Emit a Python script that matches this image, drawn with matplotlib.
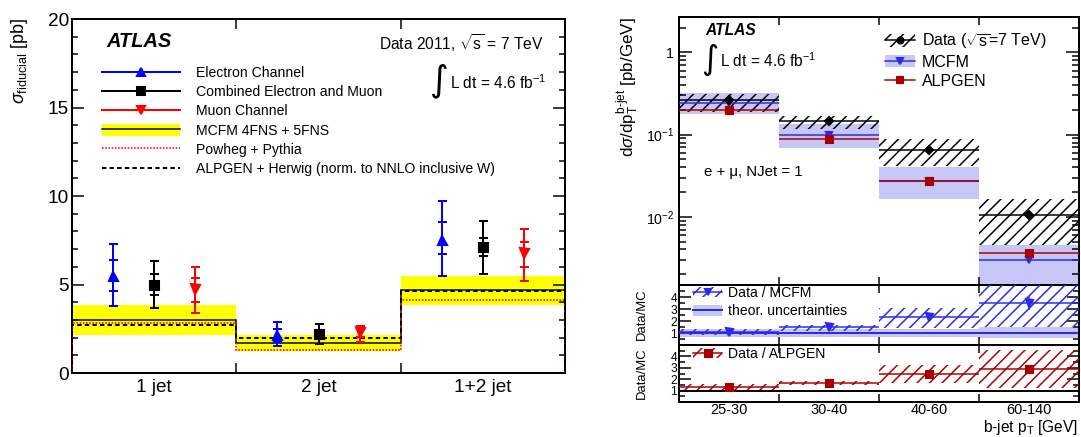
import matplotlib
matplotlib.use('Agg')
import matplotlib.pyplot as plt
import numpy as np
from matplotlib.lines import Line2D
from matplotlib.patches import Patch
from matplotlib.ticker import MultipleLocator, NullFormatter, LogLocator

W, H, DPI = 1081, 437, 150
def pt(px): return px * 72.0 / DPI
def fx(px): return px / W
def fy(py): return 1 - py / H

plt.rcParams['font.family'] = ['Liberation Sans', 'DejaVu Sans']
plt.rcParams['mathtext.fontset'] = 'custom'
plt.rcParams['mathtext.rm'] = 'Liberation Sans'
plt.rcParams['mathtext.it'] = 'Liberation Sans:italic'
plt.rcParams['mathtext.bf'] = 'Liberation Sans:bold'
plt.rcParams['mathtext.sf'] = 'Liberation Sans'
plt.rcParams['hatch.linewidth'] = 0.72
plt.rcParams['axes.linewidth'] = pt(2)

HATCH = '////'

# ---------------- left panel data ----------------
categories = ['1 jet', '2 jet', '1+2 jet']
electron = [5.47, 2.13, 7.54]
electron_tot_hi = [7.26, 2.88, 9.71]
electron_tot_lo = [3.77, 1.53, 5.50]
electron_stat_hi = [6.41, 2.50, 8.52]
electron_stat_lo = [4.62, 1.75, 6.71]
combined = [5.00, 2.22, 7.11]
combined_tot_hi = [6.35, 2.75, 8.60]
combined_tot_lo = [3.68, 1.66, 5.60]
combined_stat_hi = [5.58, 2.45, 7.62]
combined_stat_lo = [4.39, 1.95, 6.60]
muon = [4.77, 2.32, 6.80]
muon_tot_hi = [6.00, 2.66, 8.16]
muon_tot_lo = [3.39, 1.75, 5.22]
muon_stat_hi = [5.39, 2.50, 7.41]
muon_stat_lo = [4.00, 2.05, 6.00]
mcfm_nom = [3.02, 1.72, 4.67]
mcfm_hi = [3.83, 2.13, 5.50]
mcfm_lo = [2.13, 1.24, 3.86]
powheg = [2.83, 1.32, 4.15]
alpgen_herwig = [2.73, 1.98, 4.64]
legend_left = ['Electron Channel', 'Combined Electron and Muon', 'Muon Channel',
               'MCFM 4FNS + 5FNS', 'Powheg + Pythia',
               'ALPGEN + Herwig (norm. to NNLO inclusive W)']

# ---------------- right panel data ----------------
pt_bins = ['25-30', '30-40', '40-60', '60-140']
data_xs = [0.26, 0.146, 0.065, 0.0106]
data_hi = [0.31, 0.17, 0.088, 0.0165]
data_lo = [0.19, 0.118, 0.042, 0.0045]
mcfm_xs = [0.24, 0.100, 0.0273, 0.0030]
mcfm_band_hi = [0.32, 0.133, 0.040, 0.0045]
mcfm_band_lo = [0.18, 0.069, 0.0165, 0.0012]
alpgen_xs = [0.20, 0.088, 0.027, 0.0036]

ratio_mcfm = [1.12, 1.48, 2.33, 3.52]
ratio_mcfm_hi = [1.35, 1.70, 3.05, 5.5]
ratio_mcfm_lo = [0.82, 1.15, 1.4, 1.5]
ratio_mcfm_stat = [0.04, 0.05, 0.1, 0.6]
theory_hi = [1.34, 1.34, 1.36, 1.54]
theory_lo = [0.70, 0.70, 0.64, 0.55]
ratio_alpgen = [1.33, 1.69, 2.42, 2.92]
ratio_alpgen_hi = [1.55, 1.85, 3.27, 4.6]
ratio_alpgen_lo = [1.08, 1.50, 1.69, 1.2]
ratio_alpgen_stat = [0.04, 0.05, 0.1, 0.28]

BLUE = '#2b2be6'
BAND = '#c6c6f7'
DRED = '#a80000'

fig = plt.figure(figsize=(W / DPI, H / DPI), dpi=DPI)

# ================= LEFT =================
axL = fig.add_axes([fx(72), fy(373), (565 - 72) / W, (373 - 19) / H])
edges = np.arange(len(categories) + 1)
centers = edges[:-1] + 0.5
axL.bar(centers, np.array(mcfm_hi) - np.array(mcfm_lo), bottom=mcfm_lo, width=1.0,
        color='#ffff00', lw=0, zorder=1)
axL.stairs(mcfm_nom, edges, color='k', lw=pt(1.5), zorder=2)
axL.stairs(powheg, edges, color='red', lw=pt(1.6), ls=(0, (1, 1)), zorder=3)
axL.stairs(alpgen_herwig, edges, color='k', lw=pt(2), ls=(0, (2.2, 1.6)), zorder=3)

series = [
    (electron, electron_tot_lo, electron_tot_hi, electron_stat_lo, electron_stat_hi, 'blue', '^', 0.25),
    (combined, combined_tot_lo, combined_tot_hi, combined_stat_lo, combined_stat_hi, 'black', 's', 0.5),
    (muon, muon_tot_lo, muon_tot_hi, muon_stat_lo, muon_stat_hi, 'red', 'v', 0.75),
]
for vals, tlo, thi, slo, shi, col, mk, off in series:
    x = edges[:-1] + off
    v = np.array(vals)
    axL.errorbar(x, v, yerr=[v - np.array(tlo), np.array(thi) - v], fmt='none', ecolor=col,
                 elinewidth=pt(2), capsize=pt(4.5), capthick=pt(2), zorder=4)
    axL.errorbar(x, v, yerr=[v - np.array(slo), np.array(shi) - v], fmt='none', ecolor=col,
                 elinewidth=pt(2), capsize=pt(4.5), capthick=pt(2), zorder=4)
    axL.plot(x, v, ls='none', marker=mk, color=col, ms=pt(9), zorder=5)

axL.set_xlim(0, 3)
axL.set_ylim(0, 20)
axL.yaxis.set_major_locator(MultipleLocator(5))
axL.yaxis.set_minor_locator(MultipleLocator(1))
axL.tick_params(axis='y', which='both', direction='in', left=True, right=True,
                width=pt(1.5), labelsize=pt(19), pad=pt(3))
axL.tick_params(axis='y', which='major', length=pt(12))
axL.tick_params(axis='y', which='minor', length=pt(6))
axL.set_xticks([1, 2])
axL.set_xticklabels([])
axL.set_xticks(centers, minor=True)
axL.set_xticklabels(categories, minor=True)
axL.tick_params(axis='x', which='major', direction='in', top=True, bottom=True,
                length=pt(10), width=pt(1.5))
axL.tick_params(axis='x', which='minor', length=0, labelsize=pt(19), pad=pt(6))

h_e = Line2D([], [], color='blue', lw=pt(2), marker='^', ms=pt(8))
h_c = Line2D([], [], color='black', lw=pt(2), marker='s', ms=pt(8))
h_m = Line2D([], [], color='red', lw=pt(2), marker='v', ms=pt(8))
h_mc = (Patch(facecolor='#ffff00', lw=0), Line2D([], [], color='k', lw=pt(1.5)))
h_pw = Line2D([], [], color='red', lw=pt(1.6), ls=(0, (1, 1)))
h_al = Line2D([], [], color='k', lw=pt(2), ls=(0, (2.2, 1.6)))
axL.legend([h_e, h_c, h_m, h_mc, h_pw, h_al], legend_left, loc='upper left',
           bbox_to_anchor=(fx(101.5), fy(66)), bbox_transform=fig.transFigure,
           frameon=False, fontsize=pt(14), handlelength=(180 - 101.5) / 14,
           handletextpad=16.5 / 14, labelspacing=0.37, borderpad=0, borderaxespad=0,
           handleheight=0.9)

fig.text(fx(106.5), fy(41.7), 'ATLAS', fontsize=pt(20), fontweight='bold', style='italic',
         ha='left', va='center')
fig.text(fx(544), fy(43.3), r'Data 2011, $\sqrt{\mathrm{s}}$ = 7 TeV', fontsize=pt(15.5),
         ha='right', va='center')
fig.text(fx(439), fy(81), '\u222B', fontsize=pt(36), family='DejaVu Sans', ha='center', va='center')
fig.text(fx(450), fy(83), r'L dt = 4.6 fb$^{-1}$', fontsize=pt(15.5), ha='left', va='center')
fig.text(fx(20), fy(18), r'$\sigma_{\mathrm{fiducial}}$ [pb]', rotation=90, ha='center', va='top',
         fontsize=pt(18))

# ================= RIGHT =================
axT = fig.add_axes([fx(679), fy(285), 400 / W, (285 - 17) / H])
axR1 = fig.add_axes([fx(679), fy(345), 400 / W, (345 - 285) / H])
axR2 = fig.add_axes([fx(679), fy(402), 400 / W, (402 - 345) / H])

pe = np.arange(len(pt_bins) + 1)
pc = pe[:-1] + 0.5
a = np.array

axT.bar(pc, a(mcfm_band_hi) - a(mcfm_band_lo), bottom=mcfm_band_lo, width=1, color=BAND, lw=0, zorder=1)
axT.bar(pc, a(data_hi) - a(data_lo), bottom=data_lo, width=1, fill=False, hatch=HATCH,
        edgecolor='k', lw=0, zorder=2)
axT.hlines(data_xs, pe[:-1], pe[1:], color='k', lw=pt(1.5), zorder=3)
axT.hlines(mcfm_xs, pe[:-1], pe[1:], color=BLUE, lw=pt(1.5), zorder=3)
axT.hlines(alpgen_xs, pe[:-1], pe[1:], color=DRED, lw=pt(1.5), zorder=3)
axT.plot(pc, mcfm_xs, ls='none', marker='v', color=BLUE, ms=pt(6), zorder=4)
axT.plot(pc, alpgen_xs, ls='none', marker='s', color=DRED, ms=pt(7), zorder=5)
axT.plot(pc, data_xs, ls='none', marker='D', color='k', ms=pt(6), zorder=6)
axT.set_yscale('log')
axT.set_xlim(0, 4)
axT.set_ylim(1.48e-3, 2.69)
axT.set_yticks([0.01, 0.1, 1], labels=[r'$10^{-2}$', r'$10^{-1}$', '1'])
axT.yaxis.set_minor_locator(LogLocator(base=10, subs=np.arange(2, 10)))
axT.yaxis.set_minor_formatter(NullFormatter())
axT.tick_params(axis='y', which='both', direction='in', left=True, right=True,
                width=pt(1.5), labelsize=pt(14), pad=pt(5))
axT.tick_params(axis='y', which='major', length=pt(13))
axT.tick_params(axis='y', which='minor', length=pt(7))
axT.set_xticks([1, 2, 3])
axT.set_xticklabels([])
axT.tick_params(axis='x', which='both', direction='in', top=True, bottom=True,
                length=pt(8), width=pt(1.5))

fig.text(fx(705), fy(30.7), 'ATLAS', fontsize=pt(15.5), fontweight='bold', style='italic',
         ha='left', va='center')
fig.text(fx(710), fy(59.5), '\u222B', fontsize=pt(33), family='DejaVu Sans', ha='center', va='center')
fig.text(fx(720), fy(61), r'L dt = 4.6 fb$^{-1}$', fontsize=pt(15.5), ha='left', va='center')
fig.text(fx(704), fy(171.7), 'e + \u03bc, NJet = 1', fontsize=pt(15), ha='left', va='center')
fig.text(fx(628), fy(17), r'd$\sigma$/dp$_{\mathrm{T}}^{\text{b-jet}}$ [pb/GeV]', rotation=90,
         ha='center', va='top', fontsize=pt(17))

hT_data = (Patch(facecolor='none', edgecolor='k', hatch=HATCH, lw=0),
           Line2D([], [], color='k', lw=pt(1.5), marker='o', ms=pt(6)))
hT_mcfm = (Patch(facecolor=BAND, lw=0), Line2D([], [], color=BLUE, lw=pt(1.5), marker='v', ms=pt(6)))
hT_alp = Line2D([], [], color=DRED, lw=pt(1.5), marker='s', ms=pt(6))
axT.legend([hT_data, hT_mcfm, hT_alp], [r'Data ($\sqrt{\mathrm{s}}$=7 TeV)', 'MCFM', 'ALPGEN'],
           loc='upper left', bbox_to_anchor=(fx(885), fy(31)), bbox_transform=fig.transFigure,
           frameon=False, fontsize=pt(16), handlelength=30 / 16, handletextpad=7 / 16,
           labelspacing=0.24, borderpad=0, borderaxespad=0, handleheight=0.8)

# ratio 1
axR1.bar(pc, a(theory_hi) - a(theory_lo), bottom=theory_lo, width=1, color=BAND, lw=0, zorder=1)
axR1.axhline(1, color=BLUE, lw=pt(2), zorder=2)
axR1.bar(pc, a(ratio_mcfm_hi) - a(ratio_mcfm_lo), bottom=ratio_mcfm_lo, width=1, fill=False,
         hatch=HATCH, edgecolor=BLUE, lw=0, zorder=3)
axR1.hlines(ratio_mcfm, pe[:-1], pe[1:], color=BLUE, lw=pt(1.5), zorder=4)
axR1.errorbar(pc, ratio_mcfm, yerr=ratio_mcfm_stat, fmt='v', color=BLUE, ms=pt(7),
              elinewidth=pt(1.5), capsize=0, zorder=5)
hR1_d = (Patch(facecolor='none', edgecolor=BLUE, hatch=HATCH, lw=0),
         Line2D([], [], color=BLUE, lw=pt(1.5), marker='v', ms=pt(6)))
hR1_t = (Patch(facecolor=BAND, lw=0), Line2D([], [], color=BLUE, lw=pt(2)))
axR1.legend([hR1_d, hR1_t], ['Data / MCFM', 'theor. uncertainties'], loc='upper left',
            bbox_to_anchor=(fx(693), fy(286)), bbox_transform=fig.transFigure,
            frameon=False, fontsize=pt(14), handlelength=29 / 14, handletextpad=6 / 14,
            labelspacing=0.29, borderpad=0, borderaxespad=0, handleheight=0.8)

# ratio 2
axR2.axhline(1, color='k', lw=pt(2), zorder=2)
axR2.bar(pc, a(ratio_alpgen_hi) - a(ratio_alpgen_lo), bottom=ratio_alpgen_lo, width=1, fill=False,
         hatch=HATCH, edgecolor=DRED, lw=0, zorder=3)
axR2.hlines(ratio_alpgen, pe[:-1], pe[1:], color=DRED, lw=pt(1.5), zorder=4)
axR2.errorbar(pc, ratio_alpgen, yerr=ratio_alpgen_stat, fmt='s', color=DRED, ms=pt(7),
              elinewidth=pt(1.5), capsize=0, zorder=5)
hR2_d = (Patch(facecolor='none', edgecolor=DRED, hatch=HATCH, lw=0),
         Line2D([], [], color=DRED, lw=pt(1.5), marker='s', ms=pt(7)))
axR2.legend([hR2_d], ['Data / ALPGEN'], loc='upper left',
            bbox_to_anchor=(fx(693), fy(347)), bbox_transform=fig.transFigure,
            frameon=False, fontsize=pt(14), handlelength=29 / 14, handletextpad=6 / 14,
            borderpad=0, borderaxespad=0, handleheight=0.8)

for ax in (axR1, axR2):
    ax.set_xlim(0, 4)
    ax.set_ylim(0, 5)
    ax.set_yticks([1, 2, 3, 4])
    ax.yaxis.set_minor_locator(MultipleLocator(0.5))
    ax.tick_params(axis='y', which='both', direction='in', left=True, right=True,
                   width=pt(1.5), labelsize=pt(12), pad=pt(2))
    ax.tick_params(axis='y', which='major', length=pt(12))
    ax.tick_params(axis='y', which='minor', length=pt(6))
    ax.set_xticks([1, 2, 3])
    ax.set_xticklabels([])
    ax.tick_params(axis='x', which='major', direction='in', top=True, bottom=True,
                   length=pt(8), width=pt(1.5))

axR2.set_xticks(pc, minor=True)
axR2.set_xticklabels(pt_bins, minor=True)
axR2.tick_params(axis='x', which='minor', length=0, labelsize=pt(14.5), pad=pt(0.5))

fig.text(fx(642), fy(314), 'Data/MC', rotation=90, ha='center', va='center', fontsize=pt(13))
fig.text(fx(642), fy(373), 'Data/MC', rotation=90, ha='center', va='center', fontsize=pt(13))
fig.text(fx(1078), fy(427), r'b-jet p$_{\mathrm{T}}$ [GeV]', ha='right', va='center', fontsize=pt(15.5))

fig.savefig('out.png', dpi=DPI)
